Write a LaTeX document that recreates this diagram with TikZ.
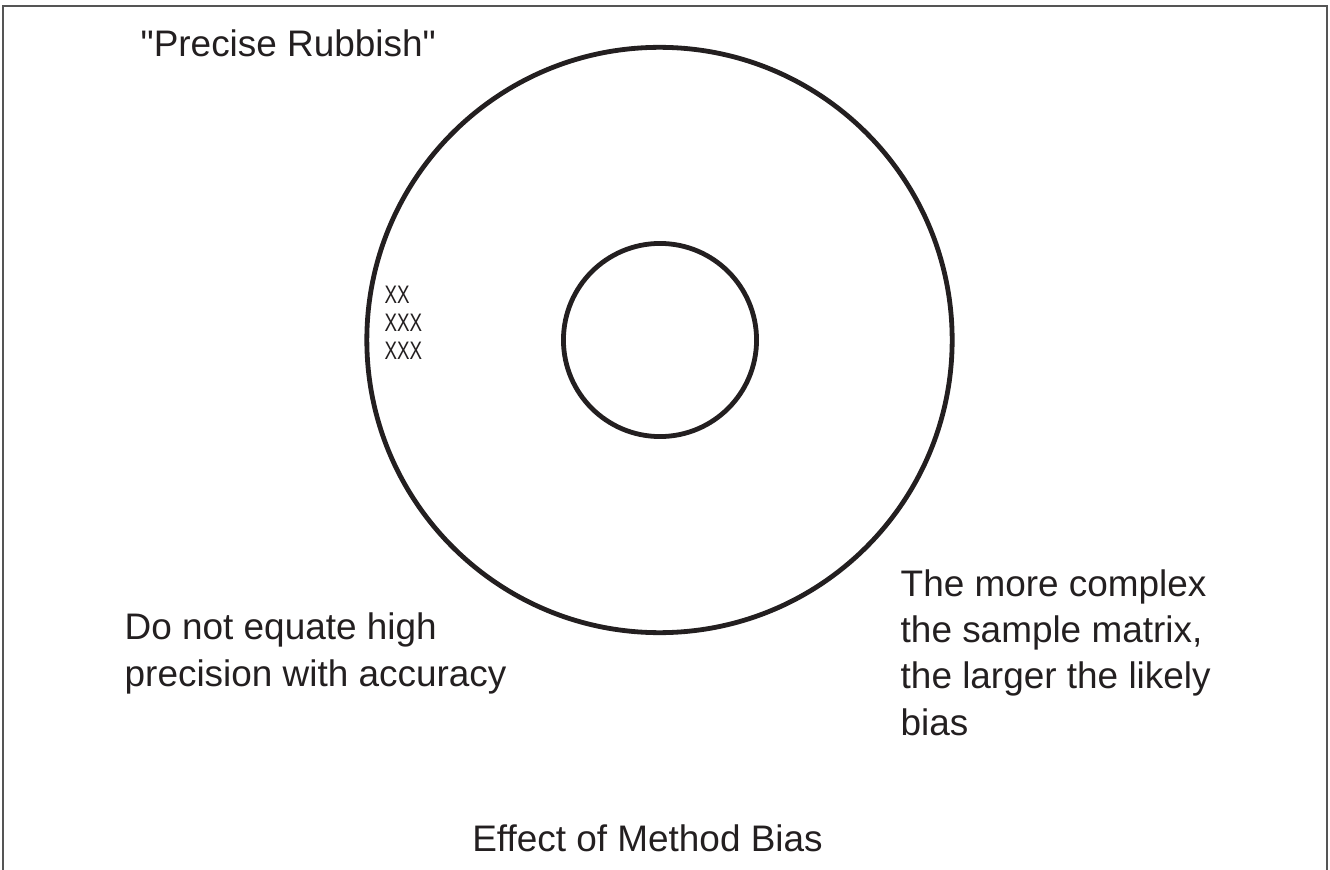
\documentclass[tikz,border=0pt]{standalone}
\usepackage{fontspec}
\setmainfont{Liberation Sans}
\usepackage{xcolor}
\definecolor{ink}{HTML}{231F20}
\definecolor{edge}{HTML}{555555}

\begin{document}
\begin{tikzpicture}[x=0.01cm, y=-0.01cm,
        every node/.style={font=\fontsize{10.5pt}{13.1pt}\selectfont, text=ink, inner sep=0pt},
        ring/.style={draw=ink, circle, line width=0.048cm},
        note/.style={align=left, anchor=base west}]
      \useasboundingbox (0,0) rectangle (1330,870);
      % open frame
      \draw[edge, line width=0.025cm] (3,870) -- (3,6) -- (1327,6) -- (1327,870);
      % target rings
      \node[ring, minimum size=5.85cm] (outer) at (659.5,340) {};
      \node[ring, minimum size=1.93cm] (inner) at (660,340) {};
      % cluster of results
      \node[align=left, anchor=north west, xscale=0.74,
            font=\fontsize{7.2pt}{7.97pt}\selectfont] (marks) at (384,285) {XX\\XXX\\XXX};
      % labels (base = last line)
      \node[note] (title) at (140,57) {\textquotedbl Precise Rubbish\textquotedbl};
      \node[note] (warn) at (124,686) {Do not equate high\\precision with accuracy};
      \node[note] (bias) at (900,735) {The more complex\\the sample matrix,\\the larger the likely\\bias};
      \node[anchor=base] (caption) at (647.5,851) {Effect of Method Bias};
    \end{tikzpicture}
\end{document}
